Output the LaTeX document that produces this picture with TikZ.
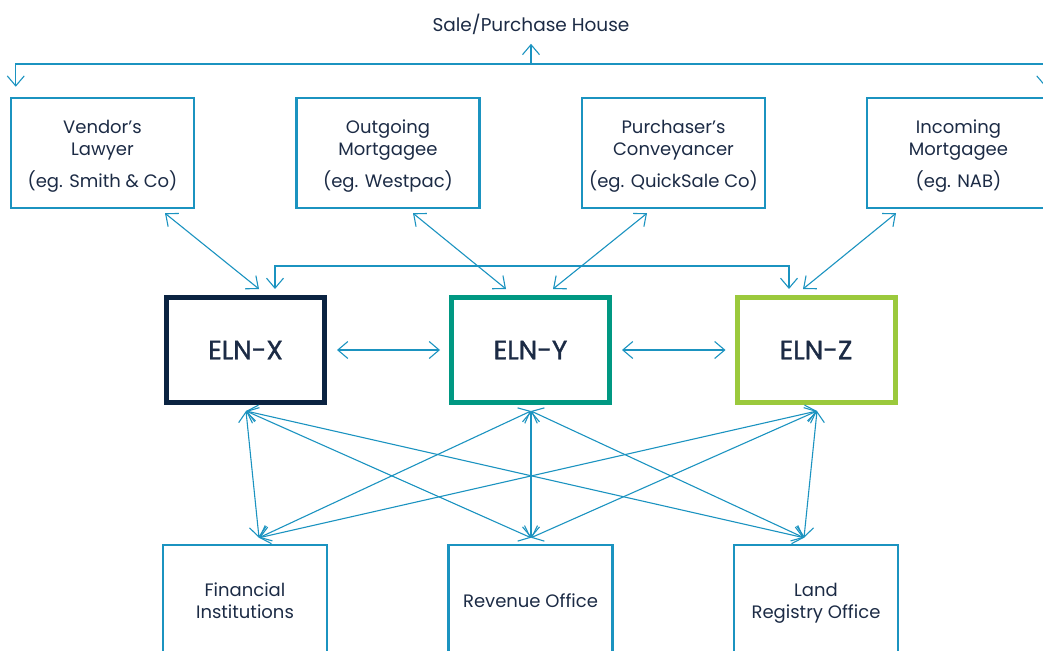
\documentclass[tikz,border=0pt]{standalone}
\usepackage{fontspec}
\setmainfont{Poppins}
\newfontfamily\elnfont{Poppins}[FakeBold=1.3]
\usetikzlibrary{arrows.meta}
\definecolor{lineblue}{HTML}{1B93C0}
\definecolor{navy}{HTML}{0B2341}
\definecolor{teal}{HTML}{009882}
\definecolor{lime}{HTML}{9BC93C}
\definecolor{txt}{HTML}{1C2B45}
\newcommand{\toppad}{\rule{0pt}{21.5pt}}
\newcommand{\offpad}{\rule{0pt}{19.4pt}}
\tikzset{
  barb/.tip={Straight Barb[length=10pt,width=17pt,line width=1.1pt]},
  conn/.style={draw=lineblue, line width=1.1pt, arrows={barb-barb}},
  oneway/.style={draw=lineblue, line width=1.1pt, arrows={-barb}},
  party/.style={draw=lineblue, line width=2.5pt, minimum width=183pt, minimum height=110pt, inner sep=0pt, align=center, text=txt, font=\fontsize{18}{22}\selectfont},
  eln/.style={line width=5pt, minimum width=158pt, minimum height=105pt, inner sep=0pt, text=txt, font=\elnfont\fontsize{26.5}{30}\selectfont},
  office/.style={draw=lineblue, line width=2.5pt, minimum width=164pt, minimum height=112pt, inner sep=0pt, align=center, text=txt, font=\fontsize{18}{22}\selectfont},
}
\begin{document}
\begin{tikzpicture}[x=1pt,y=-1pt]
\useasboundingbox (0,0) rectangle (1043,650);
\begin{scope}
\clip (0,0) rectangle (1043,650);
\node[text=txt, font=\fontsize{18.5}{22}\selectfont] (house) at (531,24) {Sale/Purchase House};
\node[party] (vl) at (102.5,153) {\toppad Vendor’s\strut\\Lawyer\strut\\[8pt](eg. Smith \& Co)\strut};
\node[party] (og) at (388,153) {\toppad Outgoing\strut\\Mortgagee\strut\\[8pt](eg. Westpac)\strut};
\node[party] (pc) at (673.5,153) {\toppad Purchaser’s\strut\\Conveyancer\strut\\[8pt](eg. QuickSale Co)\strut};
\node[party] (im) at (958.5,153) {\toppad Incoming\strut\\Mortgagee\strut\\[8pt](eg. NAB)\strut};
\node[eln, draw=navy] (x) at (245.5,350) {ELN-X};
\node[eln, draw=teal] (y) at (530.5,350) {ELN-Y};
\node[eln, draw=lime] (z) at (816,350) {ELN-Z};
\node[office] (fi) at (245,601) {\offpad Financial\strut\\Institutions\strut};
\node[office] (ro) at (530.5,601) {\offpad Revenue Office\strut};
\node[office] (lr) at (816,601) {\offpad Land\strut\\Registry Office\strut};
\coordinate (hub) at (531,64);
% top distribution
\draw[oneway] (hub) -- ([yshift=-6pt]house.south);
\draw[oneway] (hub) -| ([xshift=6pt,yshift=10pt]vl.north west);
\draw[oneway] (hub) -| ([xshift=-6pt,yshift=10pt]im.north east);
% parties to ELNs
\draw[conn] ([xshift=62.5pt,yshift=-4pt]vl.south) -- ([xshift=13.5pt,yshift=6pt]x.north);
\draw[conn] ([xshift=25pt,yshift=-4pt]og.south) -- ([xshift=-24.5pt,yshift=6pt]y.north);
\draw[conn] ([xshift=-26.5pt,yshift=-4pt]pc.south) -- ([xshift=22.5pt,yshift=6pt]y.north);
\draw[conn] ([xshift=-62.5pt,yshift=-4pt]im.south) -- ([xshift=-13pt,yshift=6pt]z.north);
\draw[conn] ([xshift=29.5pt,yshift=6pt]x.north) -- ++(0,-23) -| ([xshift=-27pt,yshift=6pt]z.north);
% between ELNs
\draw[conn] ([xshift=10pt]x.east) -- ([xshift=-9pt]y.west);
\draw[conn] ([xshift=10pt]y.east) -- ([xshift=-9pt]z.west);
% ELNs to offices
\foreach \e/\ex in {x/0.5, y/0.5, z/1}{
  \foreach \o/\ox in {fi/14, ro/0.5, lr/-12}{
    \draw[conn] ([xshift=\ex pt,yshift=-6pt]\e.south) -- ([xshift=\ox pt,yshift=6pt]\o.north);
  }
}
\end{scope}
\end{tikzpicture}
\end{document}
